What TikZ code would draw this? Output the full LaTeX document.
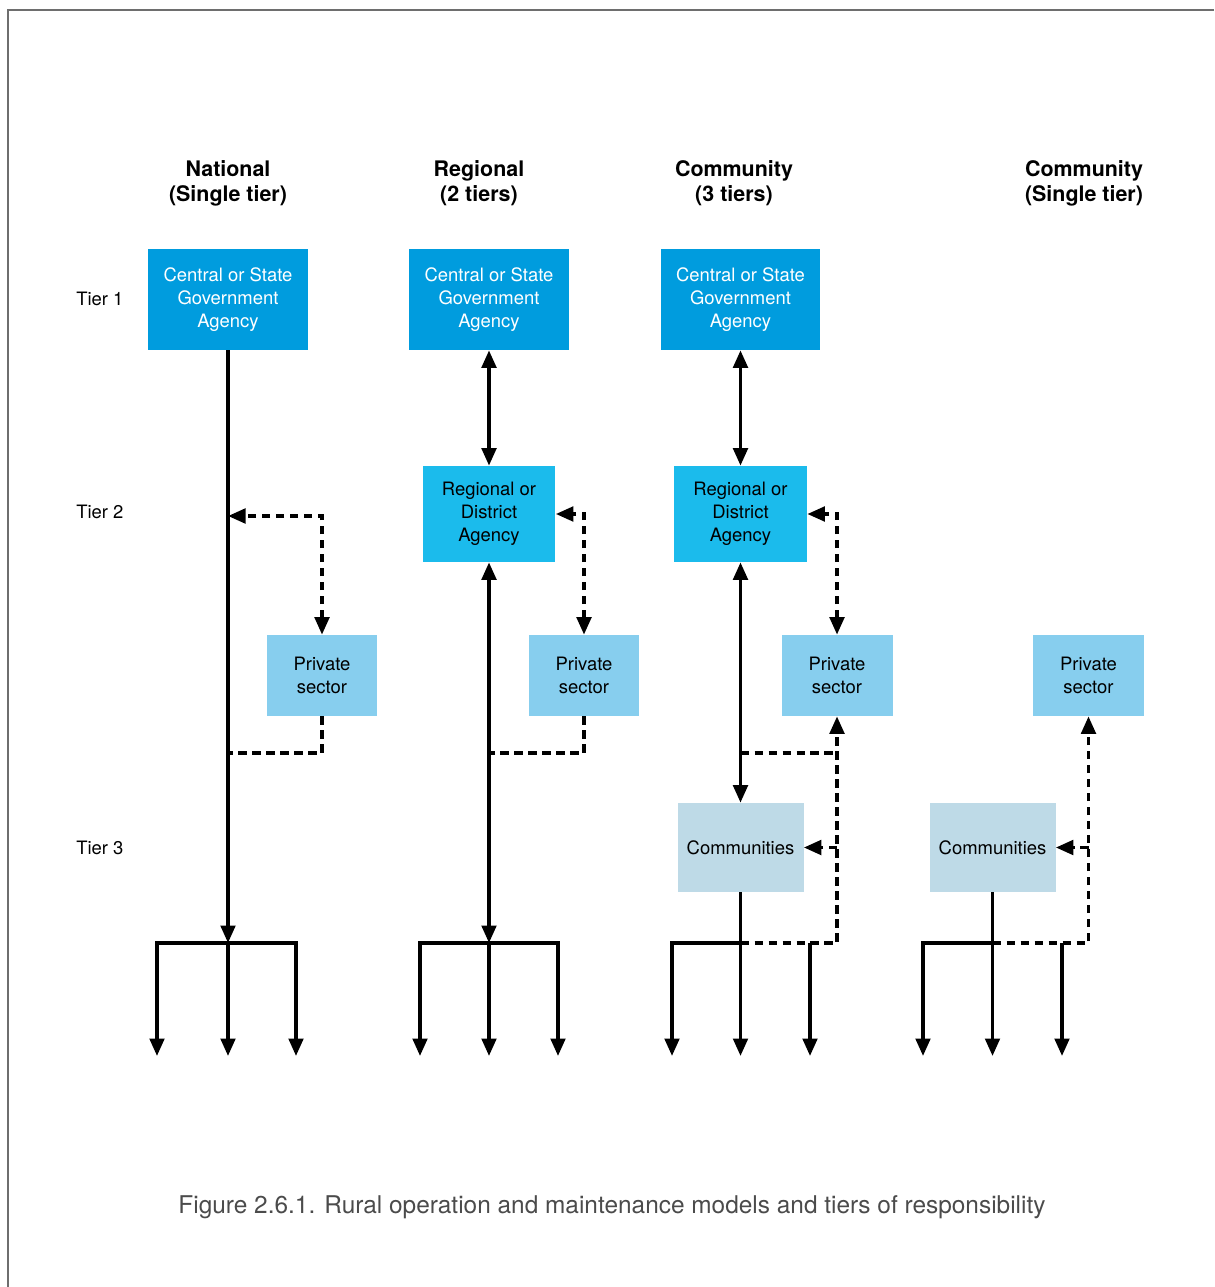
\documentclass[tikz,border=0pt]{standalone}
\usepackage{fontspec}
\setmainfont{TeX Gyre Heros}
\usetikzlibrary{arrows.meta,positioning}

\definecolor{govblue}{RGB}{0,156,222}
\definecolor{regblue}{RGB}{27,187,236}
\definecolor{privblue}{RGB}{135,206,238}
\definecolor{commblue}{RGB}{190,218,231}
\definecolor{framegray}{RGB}{110,110,110}
\definecolor{captiongray}{RGB}{75,75,75}

\begin{document}
\begin{tikzpicture}[
  x=0.02cm, y=-0.02cm,
  font=\fontsize{10.5}{13}\selectfont,
  >={Triangle[length=0.35cm,width=0.29cm]},
  govbox/.style={
    fill=govblue, text=white, align=center,
    minimum width=3.2cm, minimum height=2.02cm, inner sep=0pt
  },
  regbox/.style={
    fill=regblue, align=center,
    minimum width=2.66cm, minimum height=1.92cm, inner sep=0pt
  },
  privbox/.style={
    fill=privblue, align=center,
    minimum width=2.22cm, minimum height=1.62cm, inner sep=0pt
  },
  commbox/.style={
    fill=commblue, align=center,
    minimum width=2.52cm, minimum height=1.78cm, inner sep=0pt
  },
  heading/.style={font=\fontsize{12.2}{14.2}\selectfont\bfseries, align=center},
  tier/.style={anchor=west, inner sep=0pt},
  link/.style={line width=0.07cm},
  dashlink/.style={line width=0.07cm, dash pattern=on 0.17cm off 0.11cm}
]
\useasboundingbox (0,0) rectangle (1214,1287);

% frame
\draw[framegray, line width=0.04cm] (8,1287) -- (8,10) -- (1214,10);

% Column headings
\node[heading] (head1) at (228,183) {National\\(Single tier)};
\node[heading] (head2) at (479,183) {Regional\\(2 tiers)};
\node[heading] (head3) at (734,183) {Community\\(3 tiers)};
\node[heading] (head4) at (1084,183) {Community\\(Single tier)};

% Tier labels
\node[tier] (tier1) at (76,299) {Tier 1};
\node[tier] (tier2) at (76,512) {Tier 2};
\node[tier] (tier3) at (76,848) {Tier 3};

% Boxes
\node[govbox] (gov1) at (228,299.5) {Central or State\\Government\\Agency};
\node[govbox] (gov2) at (489,299.5) {Central or State\\Government\\Agency};
\node[govbox] (gov3) at (740.5,299.5) {Central or State\\Government\\Agency};

\node[regbox] (reg2) at (489,514) {Regional or\\District\\Agency};
\node[regbox] (reg3) at (740.5,514) {Regional or\\District\\Agency};

\node[privbox] (priv1) at (322,675.5) {Private\\sector};
\node[privbox] (priv2) at (584,675.5) {Private\\sector};
\node[privbox] (priv3) at (837,675.5) {Private\\sector};
\node[privbox] (priv4) at (1088.5,675.5) {Private\\sector};

\node[commbox] (comm3) at (740.5,847.5) {Communities};
\node[commbox] (comm4) at (992.5,847.5) {Communities};

% Bottom branches
\foreach \n/\l/\m/\r in {1/157/228/296, 2/420/489/558, 3/672/740.5/810, 4/923/992.5/1062} {
  \foreach \p/\x in {left/\l, hub/\m, right/\r} {
    \coordinate (\p\n) at (\x,943);
    \coordinate (\p foot\n) at (\x,1056);
    \draw[link,->] (\p\n) -- (\p foot\n);
  }
}
\draw[link, line cap=rect] (left1) -- (right1);
\draw[link, line cap=rect] (left2) -- (right2);
\draw[link, line cap=rect] (left3) -- (hub3);
\draw[link, line cap=rect] (left4) -- (hub4);

% Column 1
\coordinate (join1) at (228,516);
\coordinate (back1) at (228,753);
\draw[link,->] (gov1) -- (hub1);
\draw[dashlink,<->] (priv1.north) |- (join1);
\draw[dashlink] (priv1.south) |- (back1);

% Column 2
\coordinate (back2) at (489,753);
\draw[link,<->] (gov2) -- (reg2);
\draw[link,<->] (reg2) -- (hub2);
\draw[dashlink,<->] (priv2.north) |- (reg2.east);
\draw[dashlink] (priv2.south) |- (back2);

% Column 3
\coordinate (back3) at (740.5,753);
\draw[link,<->] (gov3) -- (reg3);
\draw[link,<->] (reg3) -- (comm3);
\draw[link] (comm3) -- (hub3);
\draw[dashlink,<->] (priv3.north) |- (reg3.east);
\draw[dashlink] (back3) -- (back3 -| priv3);
\draw[dashlink,->] (hub3) -| (priv3.south);
\draw[dashlink,->] (comm3.east -| priv3) -- (comm3.east);

% Column 4
\draw[link] (comm4) -- (hub4);
\draw[dashlink,->] (hub4) -| (priv4.south);
\draw[dashlink,->] (comm4.east -| priv4) -- (comm4.east);

% Caption
\node[text=captiongray, font=\fontsize{13.9}{16}\selectfont] (caption) at (612,1207)
  {Figure 2.6.1. Rural operation and maintenance models and tiers of responsibility};

\end{tikzpicture}
\end{document}
